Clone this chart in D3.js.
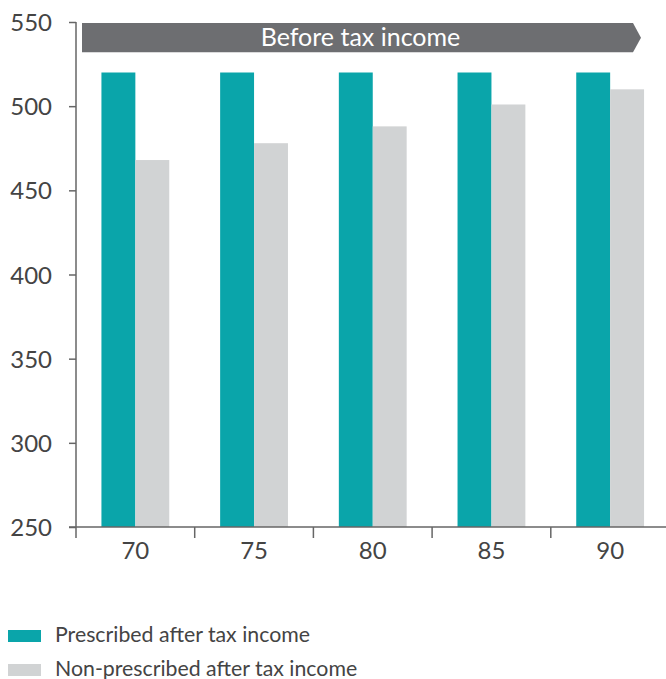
<!DOCTYPE html>
<html lang="en">
<head>
<meta charset="utf-8">
<title>before tax income</title>
<script src="https://d3js.org/d3.v7.min.js"></script>
<style>
  body{margin:0;font-family:Lato, "Open Sans", sans-serif;background:#fff;}
</style>
</head>
<body>
<div id="chart"></div>
<script>
// chart data
var ages = ["70", "75", "80", "85", "90"]
var prescribed = [520, 520, 520, 520, 520]
var nonPrescribed = [468, 478, 488, 501, 510]
var seriesNames = ["Prescribed after tax income", "Non-prescribed after tax income"]
var seriesColors = ["#0aa5aa", "#d1d3d4"]
var yTicks = [250, 300, 350, 400, 450, 500, 550]
var bannerText = "Before tax income"

var w = 666, h = 679
// note: "top" is a reserved window prop, so use other names
var mLeft = 76, mRight = 669.5, mTop = 22, mBottom = 527

var svg = d3.select("#chart").append("svg").attr("width", w).attr("height", h)

var y = d3.scaleLinear().domain([250, 550]).range([mBottom, mTop])
var x0 = d3.scaleBand().domain(ages).range([mLeft, mRight])
var x1 = d3.scaleBand().domain(seriesNames).range([0, x0.bandwidth()]).paddingInner(0).paddingOuter(0.75)

var rows = ages.map(function(a, i){
  return {age: a, values: [prescribed[i], nonPrescribed[i]]}
})

// bars
var groups = svg.selectAll("g.grp").data(rows).enter().append("g")
  .attr("transform", function(d){ return "translate(" + x0(d.age) + ",0)" })
groups.selectAll("rect").data(function(d){
    return d.values.map(function(v, j){ return {name: seriesNames[j], v: v, c: seriesColors[j]} })
  }).enter().append("rect")
  .attr("x", function(d){ return x1(d.name) })
  .attr("y", function(d){ return y(d.v) })
  .attr("width", x1.bandwidth())
  .attr("height", function(d){ return y(250) - y(d.v) })
  .attr("fill", function(d){ return d.c })

// banner arrow across top
var bx0 = mLeft + 6, bx1 = 641, by0 = y(550) + 1, by1 = y(532)
var bm = (by0 + by1) / 2
svg.append("path")
  .attr("d", "M" + bx0 + "," + by0 + "L" + (bx1 - 8) + "," + by0 + "L" + bx1 + "," + bm +
             "L" + (bx1 - 8) + "," + by1 + "L" + bx0 + "," + by1 + "Z")
  .attr("fill", "#6d6e71")
svg.append("text").attr("x", (bx0 + bx1) / 2 - 1).attr("y", bm + 8.5)
  .attr("text-anchor", "middle").attr("fill", "#fff")
  .style("font-size", "25px").text(bannerText)

// y axis
var yAxis = svg.append("g").attr("transform", "translate(" + mLeft + ",0)")
  .call(d3.axisLeft(y).tickValues(yTicks).tickSize(7).tickPadding(17))
yAxis.select(".domain").remove()
yAxis.append("line").attr("x1", 0).attr("x2", 0).attr("y1", mTop).attr("y2", mBottom + 11)
yAxis.selectAll("line").attr("stroke", "#666").attr("stroke-width", 1.5)
yAxis.selectAll("text").attr("fill", "#444").style("font-size", "24px")
  .style("font-family", "Lato, sans-serif").attr("dy", "0.36em")

// x axis
var xAxis = svg.append("g").attr("transform", "translate(0," + mBottom + ")")
xAxis.append("line").attr("x1", mLeft - 7).attr("x2", w).attr("y1", 0).attr("y2", 0)
  .attr("stroke", "#666").attr("stroke-width", 1.5)
xAxis.selectAll("line.tk").data(ages.slice(1)).enter().append("line")
  .attr("x1", function(d){ return x0(d) }).attr("x2", function(d){ return x0(d) })
  .attr("y1", 0).attr("y2", 11).attr("stroke", "#666").attr("stroke-width", 1.5)
xAxis.selectAll("text").data(ages).enter().append("text")
  .attr("x", function(d){ return x0(d) + x0.bandwidth() / 2 })
  .attr("y", 32).attr("text-anchor", "middle").attr("fill", "#444")
  .style("font-size", "24px").text(function(d){ return d })

// legend
var legend = svg.selectAll("g.lg").data(seriesNames).enter().append("g")
  .attr("transform", function(d, i){ return "translate(8," + (630 + i * 34) + ")" })
legend.append("rect").attr("width", 33).attr("height", 12)
  .attr("fill", function(d, i){ return seriesColors[i] })
legend.append("text").attr("x", 47).attr("y", 12).attr("fill", "#444")
  .style("font-size", "21.3px").text(function(d){ return d })
</script>
</body>
</html>
